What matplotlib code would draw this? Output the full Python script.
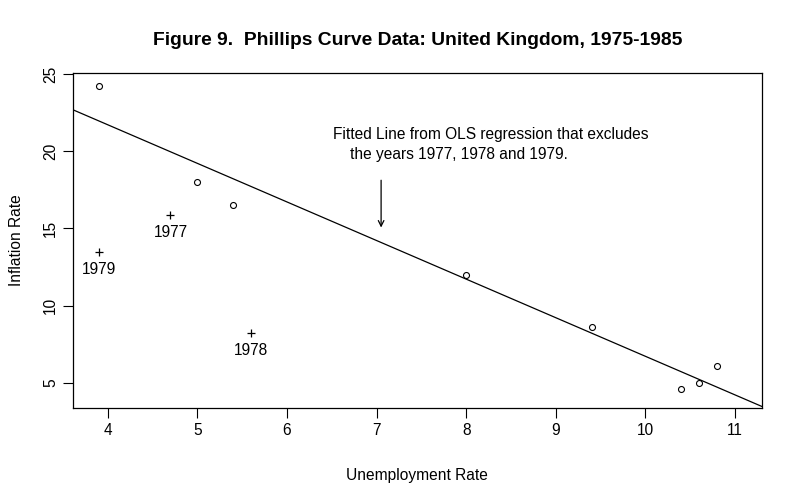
import numpy as np
import matplotlib
matplotlib.use('Agg')
import matplotlib.pyplot as plt

plt.rcParams['font.family'] = ['Liberation Sans', 'DejaVu Sans']

# Years kept in the fit
unemp = [3.9, 5.0, 5.4, 8.0, 9.4, 10.4, 10.6, 10.8]
infl = [24.2, 18.0, 16.5, 12.0, 8.6, 4.6, 5.0, 6.1]

# Years excluded from the fit
excl_years = ['1977', '1978', '1979']
excl_unemp = [4.7, 5.6, 3.9]
excl_infl = [15.9, 8.25, 13.5]

xticks = [4, 5, 6, 7, 8, 9, 10, 11]
yticks = [5, 10, 15, 20, 25]

fs = 11.2

fig = plt.figure(figsize=(8, 5), dpi=100)
ax = fig.add_axes([0.091, 0.184, 0.8615, 0.67])

ax.plot(unemp, infl, 'o', mfc='none', mec='black', ms=4.3, mew=0.8)
ax.plot(excl_unemp, excl_infl, '+', color='black', ms=6, mew=0.9)
for yr, x, y in zip(excl_years, excl_unemp, excl_infl):
    ax.annotate(yr, (x, y), xytext=(0, -18), textcoords='offset pixels',
                ha='center', va='center', fontsize=fs)

xlim = (3.61, 11.30)
slope, icept = np.polyfit(unemp, infl, 1)
xs = np.array(xlim)
ax.plot(xs, icept + slope * xs, color='black', lw=0.9)

ax.text(6.51, 21.05, 'Fitted Line from OLS regression that excludes',
        ha='left', va='center', fontsize=fs)
ax.text(6.51, 19.76, '    the years 1977, 1978 and 1979.',
        ha='left', va='center', fontsize=fs)
ax.annotate('', xy=(7.05, 15.06), xytext=(7.05, 18.12),
            arrowprops=dict(arrowstyle='->', color='black', lw=0.9,
                            mutation_scale=10, shrinkA=0, shrinkB=0))

ax.set_xlim(*xlim)
ax.set_ylim(3.38, 25.06)
ax.set_xticks(xticks)
ax.set_yticks(yticks)
ax.tick_params(direction='out', length=7, labelsize=fs, width=0.8)
for lab in ax.get_yticklabels():
    lab.set_rotation(90)
    lab.set_va('center')
for sp in ax.spines.values():
    sp.set_linewidth(0.9)

ax.set_xlabel('Unemployment Rate', fontsize=fs, labelpad=22)
ax.set_ylabel('Inflation Rate', fontsize=fs, labelpad=14)
ax.set_title('Figure 9.  Phillips Curve Data: United Kingdom, 1975-1985',
             fontsize=13.9, fontweight='bold', pad=20)

fig.savefig('out.png', dpi=100)
